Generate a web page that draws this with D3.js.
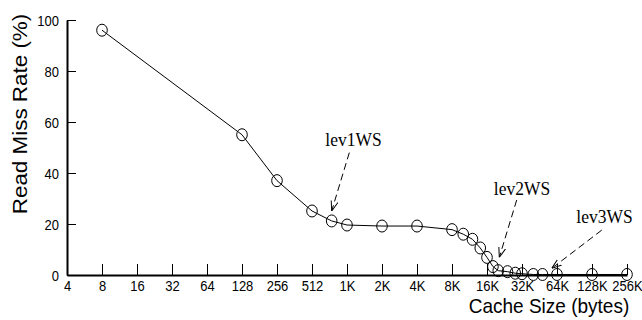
<!DOCTYPE html>
<html>
<head>
<meta charset="utf-8">
<script src="https://cdn.jsdelivr.net/npm/d3@7"></script>
<style>
body { margin: 0; background: #fff; }
</style>
</head>
<body>
<div id="chart"></div>
<script>
// cache size in bytes vs read miss rate (%)
var cacheSizes = [8, 128, 256, 512, 756, 1024, 2048, 4096, 8192, 10240, 12288, 14336, 16384, 18432, 20480, 24576, 28672, 32768, 40960, 49152, 65536, 131072, 262144];
var missRates = [96, 55, 37, 25.1, 21.2, 19.6, 19.2, 19.2, 17.8, 16, 14, 10.6, 6.9, 3.3, 1.7, 1.3, 0.7, 0.5, 0.2, 0.2, 0.2, 0.2, 0.2];

var xTicks = [4, 8, 16, 32, 64, 128, 256, 512, 1024, 2048, 4096, 8192, 16384, 32768, 65536, 131072, 262144];
var xTickLabels = ["4", "8", "16", "32", "64", "128", "256", "512", "1K", "2K", "4K", "8K", "16K", "32K", "64K", "128K", "256K"];
var yTicks = [0, 20, 40, 60, 80, 100];

// working set annotations (data coords)
var noteLabels = ["lev1WS", "lev2WS", "lev3WS"];
var noteTextAt = [[1165, 50.6], [32768, 31.4], [168000, 20.4]];
var noteFrom = [[1072, 48], [29500, 29.4], [159000, 17.6]];
var noteTo = [[756, 25.1], [20900, 6.9], [59000, 2.6]];

var width = 642, height = 320;

var svg = d3.select("#chart").append("svg")
    .attr("width", width)
    .attr("height", height);

var x = d3.scaleLog().base(2).domain([4, 262144]).range([67, 627]);
var y = d3.scaleLinear().domain([0, 100]).range([275, 20]);

var sans = "'Liberation Sans', Arial, sans-serif";
var serif = "'Liberation Serif', 'Times New Roman', serif";

svg.append("defs").append("marker")
    .attr("id", "arrow")
    .attr("viewBox", "0 -5 10 10")
    .attr("refX", 10)
    .attr("refY", 0)
    .attr("markerWidth", 10)
    .attr("markerHeight", 10)
    .attr("markerUnits", "userSpaceOnUse")
    .attr("orient", "auto")
  .append("path")
    .attr("d", "M0,-3.5L10,0L0,3.5")
    .attr("fill", "none")
    .attr("stroke", "#000")
    .attr("stroke-width", 1);

// x axis
var xAxis = svg.append("g")
    .attr("transform", "translate(0," + y(0) + ")")
    .call(d3.axisBottom(x).tickValues(xTicks)
        .tickFormat(function(d, i) { return xTickLabels[i]; })
        .tickSize(-11).tickSizeOuter(0));
xAxis.select(".domain").attr("stroke-width", 2);
xAxis.selectAll(".tick line").attr("stroke-width", 1);
xAxis.selectAll(".tick text")
    .attr("y", 0).attr("dy", 0)
    .attr("transform", "translate(0,16) scale(1,1.12)")
    .style("font-family", sans).style("font-size", "13px").attr("fill", "#000");

// y axis
var yAxis = svg.append("g")
    .attr("transform", "translate(" + x(4) + ",0)")
    .call(d3.axisLeft(y).tickValues(yTicks).tickSize(-9).tickSizeOuter(0));
yAxis.select(".domain").attr("stroke-width", 2);
yAxis.selectAll(".tick text")
    .attr("x", 0).attr("dy", 0)
    .attr("transform", "translate(-8,5) scale(1,1.12)")
    .style("font-family", sans).style("font-size", "13px").attr("fill", "#000");

// data line
var pts = cacheSizes.map(function(s, i) { return [s, missRates[i]]; });
var line = d3.line().x(function(d) { return x(d[0]); }).y(function(d) { return y(d[1]); });

svg.append("path")
    .datum(pts)
    .attr("d", line)
    .attr("fill", "none")
    .attr("stroke", "#000")
    .attr("stroke-width", 1);

svg.selectAll("ellipse.pt")
    .data(pts)
    .enter().append("ellipse")
    .attr("class", "pt")
    .attr("cx", function(d) { return x(d[0]); })
    .attr("cy", function(d) { return y(d[1]); })
    .attr("rx", 5.3)
    .attr("ry", 6)
    .attr("fill", "none")
    .attr("stroke", "#000")
    .attr("stroke-width", 1);

// annotations
noteLabels.forEach(function(lbl, i) {
    svg.append("line")
        .attr("x1", x(noteFrom[i][0])).attr("y1", y(noteFrom[i][1]))
        .attr("x2", x(noteTo[i][0])).attr("y2", y(noteTo[i][1]))
        .attr("stroke", "#000")
        .attr("stroke-width", 1)
        .attr("stroke-dasharray", "7,4")
        .attr("marker-end", "url(#arrow)");

    svg.append("text")
        .attr("transform", "translate(" + x(noteTextAt[i][0]) + "," + y(noteTextAt[i][1]) + ") scale(1,1.12)")
        .attr("text-anchor", "middle")
        .style("font-family", serif)
        .style("font-size", "17.5px")
        .attr("fill", "#000")
        .text(lbl);
});

// axis titles
svg.append("text")
    .attr("transform", "translate(27,114) rotate(-90) scale(1.15,1)")
    .attr("text-anchor", "middle")
    .style("font-family", sans)
    .style("font-size", "19.5px")
    .attr("fill", "#000")
    .text("Read Miss Rate (%)");

svg.append("text")
    .attr("transform", "translate(549,313) scale(1,1.05)")
    .attr("text-anchor", "middle")
    .style("font-family", sans)
    .style("font-size", "19px")
    .attr("fill", "#000")
    .text("Cache Size (bytes)");
</script>
</body>
</html>
